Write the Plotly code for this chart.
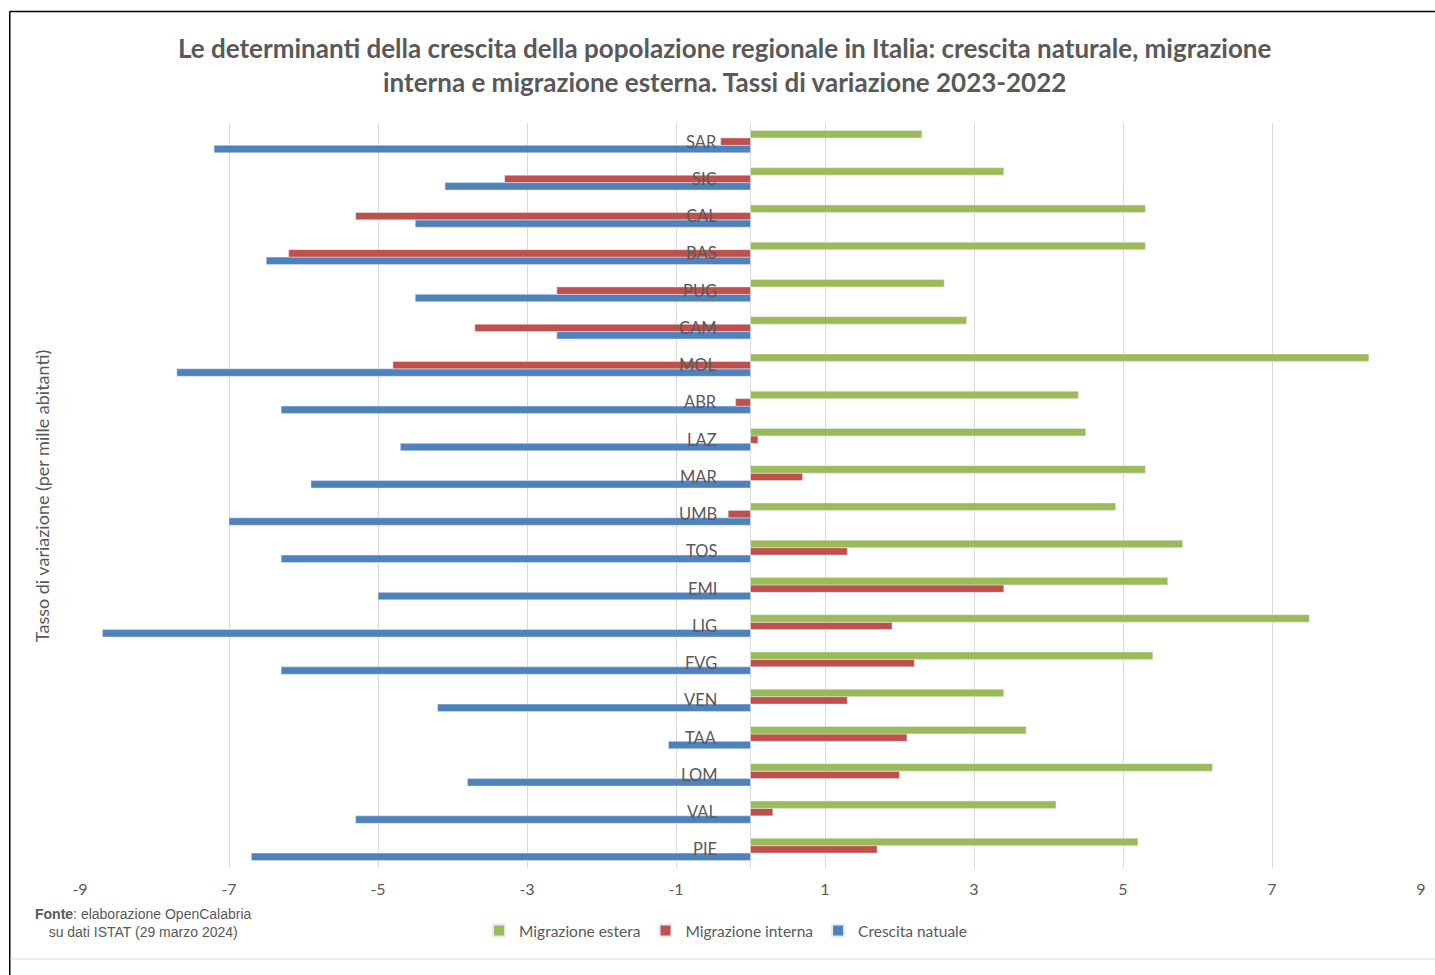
import plotly.graph_objects as go

regions = ["PIE", "VAL", "LOM", "TAA", "VEN", "FVG", "LIG", "EMI", "TOS", "UMB",
           "MAR", "LAZ", "ABR", "MOL", "CAM", "PUG", "BAS", "CAL", "SIC", "SAR"]
migrazione_estera = [5.2, 4.1, 6.2, 3.7, 3.4, 5.4, 7.5, 5.6, 5.8, 4.9,
                     5.3, 4.5, 4.4, 8.3, 2.9, 2.6, 5.3, 5.3, 3.4, 2.3]
migrazione_interna = [1.7, 0.3, 2.0, 2.1, 1.3, 2.2, 1.9, 3.4, 1.3, -0.3,
                      0.7, 0.1, -0.2, -4.8, -3.7, -2.6, -6.2, -5.3, -3.3, -0.4]
crescita_naturale = [-6.7, -5.3, -3.8, -1.1, -4.2, -6.3, -8.7, -5.0, -6.3, -7.0,
                     -5.9, -4.7, -6.3, -7.7, -2.6, -4.5, -6.5, -4.5, -4.1, -7.2]
x_ticks = [-9, -7, -5, -3, -1, 1, 3, 5, 7, 9]
x_tick_labels = ["-9", "-7", "-5", "-3", "-1", "1", "3", "5", "7", "9"]

GRAY = "#595959"
W, H = 1435, 975
L, R, T, B = 80, 9, 123, 107
PW, PH = W - L - R, H - T - B

def px(x):
    return (x - L) / PW

def py(y):
    return (H - B - y) / PH

fig = go.Figure()
fig.add_trace(go.Bar(y=regions, x=crescita_naturale, orientation="h",
                     name="Crescita natuale", marker_color="#4F81BD"))
fig.add_trace(go.Bar(y=regions, x=migrazione_interna, orientation="h",
                     name="Migrazione interna", marker_color="#C0504D"))
fig.add_trace(go.Bar(y=regions, x=migrazione_estera, orientation="h",
                     name="Migrazione estera", marker_color="#9BBB59"))

annotations = []
for r in regions:
    annotations.append(dict(x=0, y=r, xref="x", yref="y", text=r, showarrow=False,
                            xanchor="right", yanchor="middle", xshift=-32,
                            font=dict(family="Lato", size=16.5, color=GRAY)))

annotations.append(dict(x=px(42), y=py(496), xref="paper", yref="paper",
                        text="Tasso di variazione (per mille abitanti)", textangle=-90,
                        showarrow=False, xanchor="center", yanchor="middle",
                        font=dict(family="Lato", size=18, color=GRAY)))
annotations.append(dict(x=px(727), y=py(48), xref="paper", yref="paper",
                        text="Le determinanti della crescita della popolazione regionale in Italia: crescita naturale, migrazione",
                        showarrow=False, xanchor="center", yanchor="middle",
                        font=dict(family="Lato", size=26, color=GRAY, weight="bold")))
annotations.append(dict(x=px(727), y=py(82), xref="paper", yref="paper",
                        text="interna e migrazione esterna. Tassi di variazione 2023-2022",
                        showarrow=False, xanchor="center", yanchor="middle",
                        font=dict(family="Lato", size=26, color=GRAY, weight="bold")))
annotations.append(dict(x=px(144), y=py(923), xref="paper", yref="paper",
                        text="<b>Fonte</b>: elaborazione OpenCalabria<br>su dati ISTAT (29 marzo 2024)",
                        showarrow=False, xanchor="center", yanchor="middle", align="center",
                        font=dict(family="Liberation Sans", size=14, color=GRAY)))

shapes = [
    dict(type="line", xref="paper", yref="paper", x0=px(9.5), x1=px(W + 5), y0=py(11.5), y1=py(11.5),
         line=dict(color="#000000", width=1.5)),
    dict(type="line", xref="paper", yref="paper", x0=px(9.5), x1=px(9.5), y0=py(11.5), y1=py(H + 5),
         line=dict(color="#000000", width=1.5)),
    dict(type="line", xref="paper", yref="paper", x0=px(10), x1=px(W + 5), y0=py(959), y1=py(959),
         line=dict(color="#d9d9d9", width=1)),
]

fig.update_layout(
    width=W, height=H,
    margin=dict(l=L, r=R, t=T, b=B),
    paper_bgcolor="white", plot_bgcolor="white",
    barmode="group", bargap=0.4, bargroupgap=0,
    showlegend=True,
    legend=dict(orientation="h", traceorder="reversed", x=px(728), y=py(931),
                xanchor="center", yanchor="middle",
                font=dict(family="Lato", size=15.5, color=GRAY), itemwidth=30,
                itemsizing="constant"),
    xaxis=dict(range=[-9, 9], tickvals=x_ticks, ticktext=x_tick_labels,
               showgrid=True, gridcolor="#d9d9d9",
               gridwidth=1, zeroline=True, zerolinecolor="#d9d9d9", zerolinewidth=1,
               showline=False, ticks="", tickfont=dict(family="Lato", size=16, color=GRAY),
               ticklabelstandoff=10, fixedrange=True),
    yaxis=dict(showticklabels=False, showgrid=False, zeroline=False, showline=False,
               ticks="", fixedrange=True),
    annotations=annotations,
    shapes=shapes,
)

fig.write_html("out.html")
